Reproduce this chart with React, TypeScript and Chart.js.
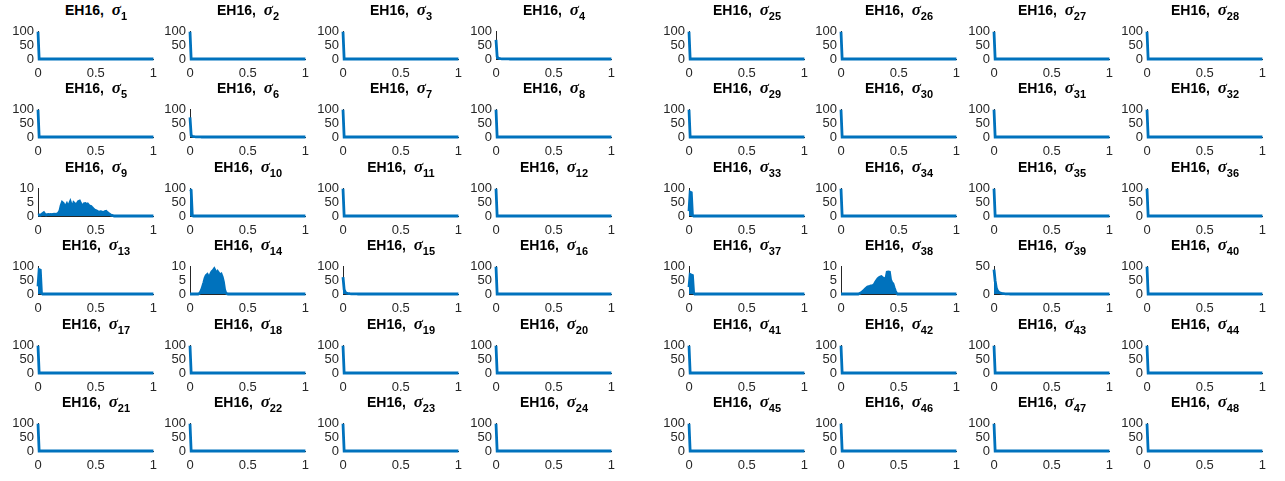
import React, { useEffect, useRef } from 'react';
import { Chart, registerables } from 'chart.js';

Chart.register(...registerables);

// ---------------- DATA ----------------
// Histogram bin width (x runs 0..1); each series lists the leading bins, the rest of the bins are zero up to x = 1.
const BIN_WIDTH = 0.01;
const X_TICKS = [0, 0.5, 1];

const FULL_SPIKE = [100, 0];
const SIGMA_4 = [70, 9, 3, 1.6, 1, 0.7, 0.5, 0.4, 0.3, 0.2, 0.2, 0.1, 0];
const SIGMA_6 = [72, 7, 2.5, 1.5, 1, 0.6, 0.4, 0.3, 0.2, 0.1, 0];
const SIGMA_9 = [
  0.3, 0.4, 0.3, 0.5, 0.9, 1.2, 0.6, 0.4, 0.5, 0.6,
  0.5, 0.6, 0.5, 0.6, 0.7, 0.6, 0.7, 0.8, 1.2, 2.0,
  3.8, 5.0, 4.6, 3.2, 3.6, 4.4, 3.4, 4.2, 5.2, 4.0,
  3.2, 4.8, 4.4, 3.8, 4.6, 5.3, 5.5, 4.6, 3.8, 3.6,
  4.5, 4.6, 4.2, 4.4, 3.9, 3.6, 3.5, 3.0, 2.6, 2.2,
  2.0, 1.8, 1.6, 1.4, 1.6, 1.5, 1.2, 1.4, 1.6, 1.7,
  1.3, 1.0, 0.7, 0.4, 0.2, 0.1, 0,
];
const SIGMA_10 = [98, 95, 1, 0];
const SIGMA_13 = [28, 90, 88, 3, 0];
const SIGMA_14 = [
  0, 0, 0, 0, 0, 0, 0, 0, 0.2, 0.6,
  1.5, 2.8, 4.2, 5.8, 6.8, 7.2, 6.4, 6.0, 7.4, 8.2,
  8.6, 9.2, 8.4, 7.4, 8.2, 7.6, 7.0, 7.3, 6.2, 4.4,
  1.6, 0.4, 0.1, 0,
];
const SIGMA_15 = [62, 16, 6, 3, 2, 1.5, 1, 0.8, 0.6, 0.4, 0.3, 0.2, 0.1, 0];
const SIGMA_33 = [18, 88, 86, 2, 0];
const SIGMA_37 = [25, 72, 70, 68, 4, 0];
const SIGMA_38 = [
  0, 0, 0, 0, 0, 0, 0, 0, 0, 0,
  0, 0, 0, 0, 0, 0, 0.2, 0.4, 0.6, 1.0,
  1.4, 1.8, 2.2, 2.6, 2.7, 2.8, 3.0, 3.0, 3.2, 3.6,
  4.4, 5.0, 5.6, 6.0, 6.2, 6.4, 6.0, 5.8, 5.6, 5.8,
  8.0, 8.1, 8.0, 5.2, 4.2, 3.8, 2.4, 1.2, 0.3, 0,
];
const SIGMA_39 = [45, 24, 11, 6, 3.5, 2.2, 1.5, 1, 0.7, 0.5, 0.4, 0.3, 0.2, 0.1, 0];

// sigma_1 .. sigma_48
const PANEL_VALUES = [
  FULL_SPIKE, FULL_SPIKE, FULL_SPIKE, SIGMA_4,
  FULL_SPIKE, SIGMA_6, FULL_SPIKE, FULL_SPIKE,
  SIGMA_9, SIGMA_10, FULL_SPIKE, FULL_SPIKE,
  SIGMA_13, SIGMA_14, SIGMA_15, FULL_SPIKE,
  FULL_SPIKE, FULL_SPIKE, FULL_SPIKE, FULL_SPIKE,
  FULL_SPIKE, FULL_SPIKE, FULL_SPIKE, FULL_SPIKE,
  FULL_SPIKE, FULL_SPIKE, FULL_SPIKE, FULL_SPIKE,
  FULL_SPIKE, FULL_SPIKE, FULL_SPIKE, FULL_SPIKE,
  SIGMA_33, FULL_SPIKE, FULL_SPIKE, FULL_SPIKE,
  SIGMA_37, SIGMA_38, SIGMA_39, FULL_SPIKE,
  FULL_SPIKE, FULL_SPIKE, FULL_SPIKE, FULL_SPIKE,
  FULL_SPIKE, FULL_SPIKE, FULL_SPIKE, FULL_SPIKE,
];
const PANEL_YMAX = [
  100, 100, 100, 100,
  100, 100, 100, 100,
  10, 100, 100, 100,
  100, 10, 100, 100,
  100, 100, 100, 100,
  100, 100, 100, 100,
  100, 100, 100, 100,
  100, 100, 100, 100,
  100, 100, 100, 100,
  100, 10, 50, 100,
  100, 100, 100, 100,
  100, 100, 100, 100,
];
const TITLE_PREFIX = 'EH16,';

// ---------------- LAYOUT ----------------
const COL_LEFT = [38, 190, 343, 496, 689, 841, 994, 1147];
const ROW_TOP = [30, 108, 187, 265, 344, 422];
const PLOT_W = 116;
const PLOT_H = 29;
const AX_W = 32; // room for y tick labels
const AX_H = 26; // room for x tick labels
const PAD_T = 10;
const PAD_R = 10;
const BLUE = '#0072BD';
const AXIS_COLOR = '#262626';
const TICK_FONT = { family: "'Liberation Sans', Arial, Helvetica, sans-serif", size: 13 };

function Panel({ index }: { index: number }) {
  const ref = useRef<HTMLCanvasElement | null>(null);
  const group = Math.floor(index / 24);
  const j = index % 24;
  const row = Math.floor(j / 4);
  const col = group * 4 + (j % 4);
  const L = COL_LEFT[col];
  const T = ROW_TOP[row];
  const values = PANEL_VALUES[index];
  const yMax = PANEL_YMAX[index];

  useEffect(() => {
    if (!ref.current) return;
    const points = values.map((v, i) => ({ x: i * BIN_WIDTH, y: v }));
    points.push({ x: 1, y: 0 });
    const chart = new Chart(ref.current, {
      type: 'line',
      data: {
        datasets: [
          {
            data: points,
            borderColor: BLUE,
            backgroundColor: BLUE,
            borderWidth: 2.8,
            pointRadius: 0,
            fill: 'origin',
            tension: 0,
            clip: 2,
          },
        ],
      },
      options: {
        animation: false,
        responsive: false,
        events: [],
        layout: { padding: { top: PAD_T, right: PAD_R, left: 0, bottom: 0 } },
        plugins: {
          legend: { display: false },
          tooltip: { enabled: false },
          title: { display: false },
        },
        scales: {
          x: {
            type: 'linear',
            min: 0,
            max: 1,
            afterFit: (s: any) => {
              s.height = AX_H;
            },
            afterBuildTicks: (s: any) => {
              s.ticks = X_TICKS.map((v) => ({ value: v }));
            },
            grid: { display: false, drawTicks: false },
            border: { display: true, color: AXIS_COLOR, width: 1 },
            ticks: {
              padding: 7,
              color: AXIS_COLOR,
              font: TICK_FONT,
              maxRotation: 0,
              autoSkip: false,
              callback: (v: any) => String(v),
            },
          },
          y: {
            min: 0,
            max: yMax,
            afterFit: (s: any) => {
              s.width = AX_W;
            },
            grid: { display: false, drawTicks: false },
            border: { display: true, color: AXIS_COLOR, width: 1 },
            ticks: {
              stepSize: yMax === 10 ? 5 : 50,
              padding: 4,
              color: AXIS_COLOR,
              font: TICK_FONT,
              autoSkip: false,
            },
          },
        },
      },
    } as any);
    return () => chart.destroy();
  }, [index]);

  const cw = PLOT_W + AX_W + PAD_R;
  const ch = PLOT_H + PAD_T + AX_H;
  return (
    <>
      <canvas
        ref={ref}
        width={cw}
        height={ch}
        style={{ position: 'absolute', left: L - AX_W, top: T - PAD_T, width: cw, height: ch }}
      />
      <div
        style={{
          position: 'absolute',
          left: L - 20,
          width: PLOT_W + 40,
          top: T - 27,
          textAlign: 'center',
          fontFamily: "'Liberation Sans', Arial, Helvetica, sans-serif",
          fontWeight: 'bold',
          fontSize: '14px',
          lineHeight: '14px',
          color: '#000',
          whiteSpace: 'nowrap',
        }}
      >
        {TITLE_PREFIX}
        {'\u00a0\u00a0'}
        <span
          style={{
            fontFamily: "'Liberation Serif', 'DejaVu Serif', serif",
            fontStyle: 'italic',
            fontSize: '17px',
          }}
        >
          σ
        </span>
        <span style={{ fontSize: '11px', position: 'relative', top: '5px' }}>{index + 1}</span>
      </div>
    </>
  );
}

export default function App() {
  return (
    <div
      style={{
        position: 'absolute',
        left: 0,
        top: 0,
        width: 1285,
        height: 481,
        background: '#fff',
        overflow: 'hidden',
      }}
    >
      {PANEL_VALUES.map((_, i) => (
        <Panel key={i} index={i} />
      ))}
    </div>
  );
}
